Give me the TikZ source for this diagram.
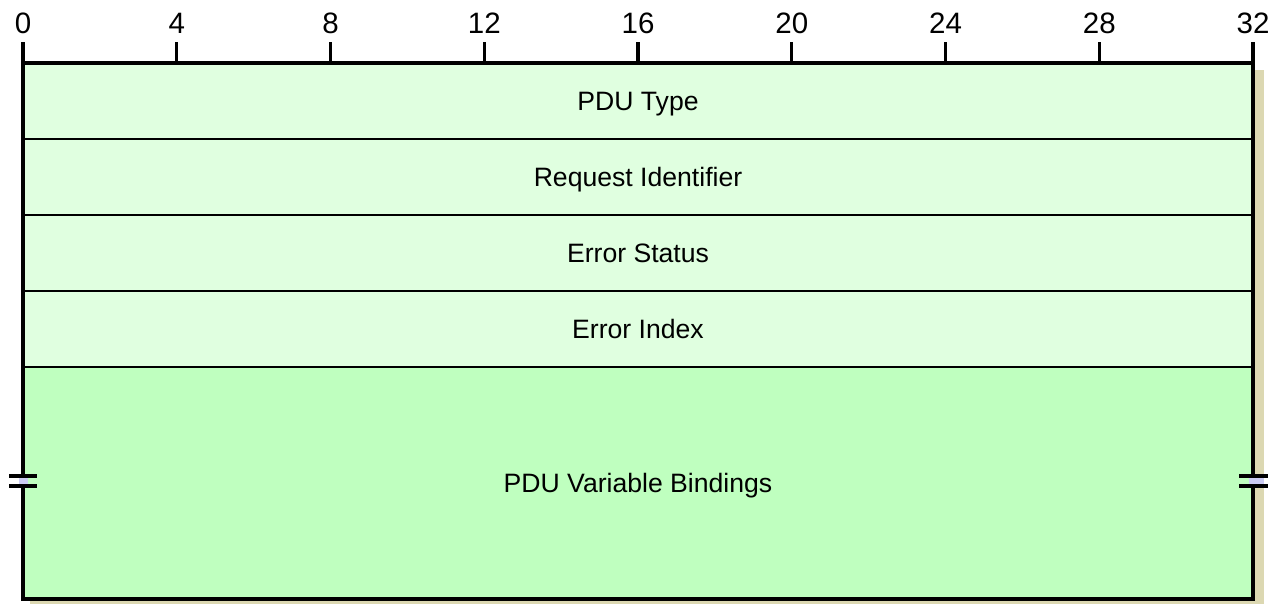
\documentclass[tikz,border=0pt]{standalone}
\usepackage{fontspec}
\setmainfont{Liberation Sans}
\usetikzlibrary{positioning}
\definecolor{fieldlight}{HTML}{E0FFE0}
\definecolor{fielddark}{HTML}{BFFFBF}
\definecolor{shadowtan}{HTML}{DCD8B2}
\definecolor{breakblue}{HTML}{CCCCF4}
\tikzset{
    field/.style={
        rectangle, draw=black, line width=1.4pt, fill=fieldlight,
        minimum width=1230pt, minimum height=76pt,
        inner sep=0pt, outer sep=0pt,
        text height=19pt, text depth=0pt,
        font=\fontsize{26.6}{30}\selectfont
    },
    ruler label/.style={
        font=\fontsize{29.5}{34}\selectfont, inner sep=0pt, anchor=base
    },
    tick/.style={line width=3.2pt},
    frame/.style={line width=3.8pt},
    break mark/.style={line width=3.6pt}
}

\begin{document}
\begin{tikzpicture}[x=1pt, y=-1pt]
    \useasboundingbox (0,0) rectangle (1280,603);

    % Shadow
    \fill[shadowtan] (30,70) rectangle (1264,604);

    % Fields
    \node[field] (pdutype) at (638,101) {PDU Type};
    \node[field, below=0pt of pdutype] (reqid) {Request Identifier};
    \node[field, below=0pt of reqid] (errstatus) {Error Status};
    \node[field, below=0pt of errstatus] (errindex) {Error Index};
    \node[field, below=0pt of errindex, minimum height=232pt, fill=fielddark] (bindings) {PDU Variable Bindings};

    % Frame
    \draw[frame] (pdutype.north west) rectangle (bindings.south east);

    % Bit ruler
    \foreach \bit in {0,4,...,32} {
        \coordinate (t\bit) at ({23+\bit*38.4375},63);
        \draw[tick] (t\bit) -- ++(0,-21);
        \node[ruler label] at ({23+\bit*38.4375},33) {\bit};
    }

    % Break marks
    \fill[breakblue] (19,477) rectangle (28,486);
    \fill[breakblue] (1249,477) rectangle (1264,486);
    \draw[break mark] (9,476) -- (37,476);
    \draw[break mark] (9,486) -- (37,486);
    \draw[break mark] (1239,476) -- (1268,476);
    \draw[break mark] (1239,486) -- (1268,486);

\end{tikzpicture}
\end{document}
